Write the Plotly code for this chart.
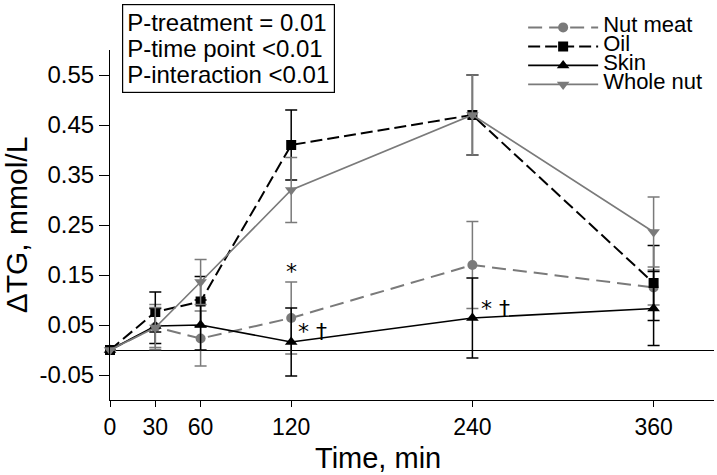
import plotly.graph_objects as go

# Час відбору (хв)
time_min = [0, 30, 60, 120, 240, 360]

# Середні значення ΔTG (ммоль/л) та похибки
nut_meat = [0.0, 0.046, 0.023, 0.064, 0.170, 0.125]
nut_meat_err = [0.0, 0.045, 0.055, 0.072, 0.087, 0.035]

oil = [0.0, 0.076, 0.097, 0.410, 0.470, 0.134]
oil_err = [0.0, 0.040, 0.050, 0.070, 0.080, 0.075]

skin = [0.0, 0.048, 0.050, 0.016, 0.064, 0.083]
skin_err = [0.0, 0.035, 0.050, 0.068, 0.080, 0.074]

whole_nut = [0.0, 0.045, 0.136, 0.320, 0.470, 0.236]
whole_nut_err = [0.0, 0.040, 0.045, 0.065, 0.080, 0.070]

y_ticks = [-0.05, 0.05, 0.15, 0.25, 0.35, 0.45, 0.55]

GRAY = "#7a7a7a"
BLACK = "#000000"
FONT = "Liberation Sans, Arial, sans-serif"


def big(text, size):
    return '<span style="font-size:%dpx">%s</span>' % (size, text)


series = [
    ("Nut meat", nut_meat, nut_meat_err, GRAY, "14px,7px", 2, "circle", 10),
    ("Oil", oil, oil_err, BLACK, "12px,5px", 2, "square", 10),
    ("Skin", skin, skin_err, BLACK, "solid", 1.6, "triangle-up", 11),
    ("Whole nut", whole_nut, whole_nut_err, GRAY, "solid", 1.6, "triangle-down", 11),
]

fig = go.Figure()
for name, values, errs, color, dash, lw, symbol, size in series:
    fig.add_trace(go.Scatter(
        x=time_min,
        y=values,
        name=big(name, 22),
        mode="lines+markers",
        line=dict(color=color, width=lw, dash=dash),
        marker=dict(symbol=symbol, size=size, color=color),
        error_y=dict(type="data", array=errs, visible=True, color=color,
                     thickness=1.5, width=6),
        cliponaxis=False,
    ))

# Позначки значущості
marks = [(120, 0.158, "*"), (134, 0.038, "* †"), (255, 0.084, "* †")]
for mx, my, txt in marks:
    fig.add_annotation(x=mx, y=my, text=txt, showarrow=False,
                       font=dict(size=22, color=BLACK, family="DejaVu Sans"))

# Блок з P-значеннями
p_lines = ["P-treatment = 0.01", "P-time point <0.01", "P-interaction <0.01"]
fig.add_annotation(
    xref="paper", yref="paper", x=0.02, y=1.132,
    xanchor="left", yanchor="top", align="left",
    text="<br>".join(big(t, 24) for t in p_lines),
    showarrow=False, bordercolor=BLACK, borderwidth=1.2, borderpad=4,
    font=dict(size=20, color=BLACK, family=FONT),
)

# Підпис осі X (зміщений ліворуч, як в оригіналі)
fig.add_annotation(
    xref="paper", yref="paper", x=0.444, y=-0.166,
    xanchor="center", yanchor="middle", text="Time, min",
    showarrow=False, font=dict(size=29, color=BLACK, family=FONT),
)

fig.update_layout(
    width=717,
    height=475,
    margin=dict(l=110, r=3, t=50, b=75),
    plot_bgcolor="white",
    paper_bgcolor="white",
    font=dict(family=FONT, color=BLACK, size=22),
    legend=dict(
        x=0.684, y=1.106, xanchor="left", yanchor="top",
        font=dict(size=12, family=FONT),
        itemwidth=70, bgcolor="rgba(0,0,0,0)",
    ),
    xaxis=dict(
        range=[0, 400],
        tickvals=time_min,
        ticks="outside", ticklen=6, tickcolor=BLACK,
        showline=True, linecolor=BLACK, linewidth=1,
        showgrid=False, zeroline=False, automargin=False,
        tickfont=dict(size=23),
    ),
    yaxis=dict(
        range=[-0.1, 0.6],
        tickvals=y_ticks,
        ticktext=["%.2f" % v for v in y_ticks],
        ticks="outside", ticklen=10, tickcolor=BLACK,
        showline=True, linecolor=BLACK, linewidth=1,
        showgrid=False, automargin=False,
        zeroline=True, zerolinecolor=BLACK, zerolinewidth=1,
        tickfont=dict(size=24),
        title=dict(text="ΔTG, mmol/L", font=dict(size=30), standoff=2),
    ),
)

fig.write_html("out.html", config={"displayModeBar": False},
               post_script="document.body.style.margin='0';")
